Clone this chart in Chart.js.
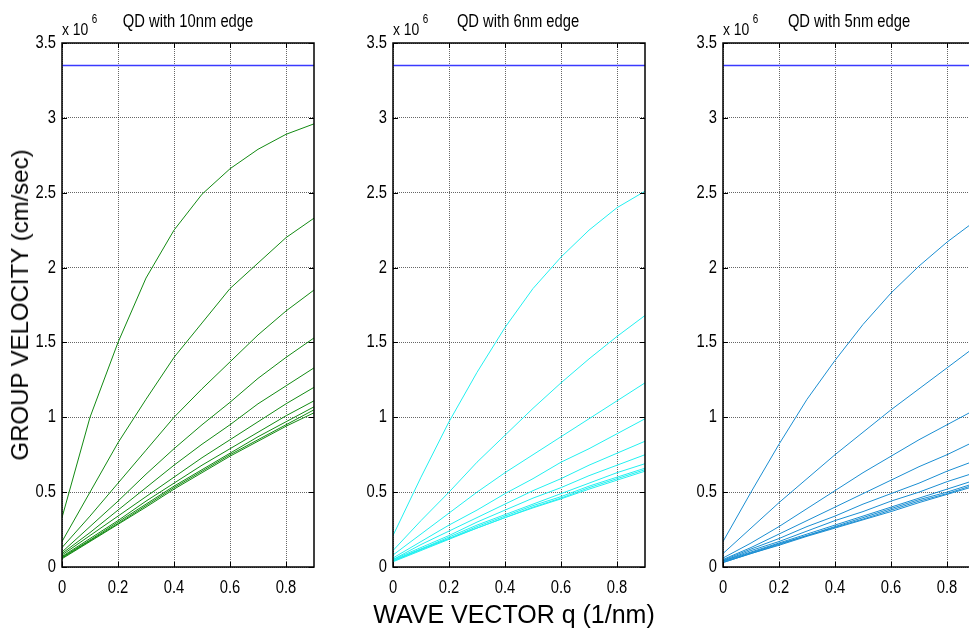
<!DOCTYPE html>
<html>
<head>
<meta charset="utf-8">
<script src="https://cdn.jsdelivr.net/npm/chart.js@4.4.1/dist/chart.umd.min.js"></script>
<style>
  html, body { margin: 0; padding: 0; background: #fff; overflow: hidden; width: 969px; height: 636px; position: relative; }
  .panel { position: absolute; top: 0; width: 330px; height: 636px; }
  .lbl { position: absolute; white-space: nowrap; color: #000; font-family: "Liberation Sans", Arial, sans-serif; line-height: 1; }
  .ttl { font-size: 18px; transform: translateX(-50%) scaleX(0.82); top: 12px; }
  .exp { font-size: 17px; top: 18px; transform-origin: 0 0; transform: scaleX(0.82); }
  .exp sup { font-size: 12px; position: relative; top: -5px; margin-left: 4px; }
  #ylab { font-size: 24px; left: 20px; top: 305px; transform: translate(-50%, -50%) rotate(-90deg); }
  #xlab { font-size: 25px; left: 514px; top: 602px; transform: translateX(-50%); }
</style>
</head>
<body>
<div class="panel" style="left:0px"><canvas id="c0" width="330" height="636"></canvas></div>
<div class="panel" style="left:331px"><canvas id="c1" width="330" height="636"></canvas></div>
<div class="panel" style="left:661px"><canvas id="c2" width="330" height="636"></canvas></div>

<div class="lbl ttl" style="left:188px">QD with 10nm edge</div>
<div class="lbl ttl" style="left:518px">QD with 6nm edge</div>
<div class="lbl ttl" style="left:849px">QD with 5nm edge</div>
<div class="lbl exp" style="left:62px">x 10<sup>6</sup></div>
<div class="lbl exp" style="left:393px">x 10<sup>6</sup></div>
<div class="lbl exp" style="left:723px">x 10<sup>6</sup></div>
<div class="lbl" id="ylab">GROUP VELOCITY (cm/sec)</div>
<div class="lbl" id="xlab">WAVE VECTOR q (1/nm)</div>

<script>
// group velocity vs wave vector, three quantum-dot sizes (values in 10^6 cm/sec)

const qValues = [0, 0.1, 0.2, 0.3, 0.4, 0.5, 0.6, 0.7, 0.8, 0.9];
const xTicks = [0, 0.2, 0.4, 0.6, 0.8];
const yTicks = [0, 0.5, 1, 1.5, 2, 2.5, 3, 3.5];
const bulkVelocity = 3.35;

const vg10nm = [
  [0.33, 1.00, 1.50, 1.93, 2.25, 2.49, 2.66, 2.79, 2.89, 2.96],
  [0.17, 0.50, 0.83, 1.12, 1.40, 1.63, 1.86, 2.03, 2.20, 2.33],
  [0.13, 0.34, 0.56, 0.78, 1.00, 1.19, 1.37, 1.55, 1.71, 1.85],
  [0.10, 0.27, 0.44, 0.62, 0.79, 0.95, 1.10, 1.26, 1.40, 1.53],
  [0.09, 0.23, 0.38, 0.53, 0.68, 0.82, 0.95, 1.09, 1.21, 1.33],
  [0.08, 0.21, 0.34, 0.47, 0.60, 0.73, 0.85, 0.97, 1.09, 1.20],
  [0.07, 0.19, 0.31, 0.44, 0.56, 0.68, 0.79, 0.90, 1.01, 1.11],
  [0.065, 0.18, 0.30, 0.42, 0.54, 0.65, 0.76, 0.87, 0.97, 1.07],
  [0.06, 0.175, 0.29, 0.41, 0.53, 0.64, 0.75, 0.85, 0.95, 1.05],
  [0.055, 0.17, 0.285, 0.40, 0.52, 0.63, 0.74, 0.84, 0.94, 1.03],
];

const vg6nm = [
  [0.21, 0.60, 0.97, 1.30, 1.60, 1.86, 2.07, 2.25, 2.40, 2.51],
  [0.11, 0.31, 0.50, 0.70, 0.88, 1.06, 1.23, 1.39, 1.54, 1.68],
  [0.08, 0.22, 0.36, 0.50, 0.63, 0.75, 0.87, 0.99, 1.11, 1.23],
  [0.06, 0.17, 0.28, 0.38, 0.49, 0.59, 0.70, 0.79, 0.89, 0.99],
  [0.05, 0.15, 0.24, 0.33, 0.42, 0.51, 0.59, 0.68, 0.76, 0.84],
  [0.05, 0.13, 0.21, 0.30, 0.38, 0.46, 0.53, 0.61, 0.68, 0.75],
  [0.045, 0.12, 0.20, 0.28, 0.35, 0.42, 0.49, 0.56, 0.63, 0.69],
  [0.04, 0.12, 0.19, 0.27, 0.34, 0.41, 0.47, 0.54, 0.60, 0.66],
  [0.04, 0.115, 0.19, 0.26, 0.33, 0.40, 0.46, 0.53, 0.59, 0.65],
  [0.035, 0.11, 0.185, 0.26, 0.33, 0.395, 0.455, 0.52, 0.58, 0.64],
];

const vg5nm = [
  [0.17, 0.50, 0.82, 1.12, 1.38, 1.62, 1.83, 2.01, 2.17, 2.31],
  [0.09, 0.26, 0.43, 0.59, 0.75, 0.90, 1.05, 1.19, 1.33, 1.47],
  [0.06, 0.16, 0.27, 0.39, 0.51, 0.63, 0.74, 0.85, 0.95, 1.05],
  [0.05, 0.13, 0.22, 0.31, 0.40, 0.49, 0.58, 0.67, 0.75, 0.84],
  [0.045, 0.12, 0.19, 0.27, 0.34, 0.42, 0.49, 0.56, 0.64, 0.71],
  [0.04, 0.11, 0.17, 0.24, 0.31, 0.37, 0.44, 0.50, 0.57, 0.63],
  [0.04, 0.10, 0.16, 0.22, 0.28, 0.34, 0.40, 0.46, 0.52, 0.58],
  [0.035, 0.095, 0.155, 0.21, 0.27, 0.33, 0.39, 0.45, 0.50, 0.56],
  [0.03, 0.09, 0.15, 0.21, 0.265, 0.32, 0.38, 0.44, 0.49, 0.55],
  [0.03, 0.09, 0.145, 0.205, 0.26, 0.315, 0.37, 0.43, 0.485, 0.54],
];

const PANELS = [
  { id: "c0", curves: vg10nm, color: "#128a12" },
  { id: "c1", curves: vg6nm,  color: "#22f0f0" },
  { id: "c2", curves: vg5nm,  color: "#1a8ed2" },
];

const NARROW = 0.82;  // squeeze factor, no condensed face is installed

// MATLAB-style box, inward tick marks on all four sides, narrow tick labels
const frameTicks = {
  id: "frameTicks",
  afterDatasetsDraw(chart) {
    const { ctx, chartArea: a, scales: { x, y } } = chart;
    ctx.save();
    ctx.strokeStyle = "#000";
    ctx.lineWidth = 1.5;
    ctx.strokeRect(a.left, a.top, a.right - a.left, a.bottom - a.top);
    ctx.lineWidth = 1;
    ctx.beginPath();
    x.ticks.forEach(t => {
      const px = Math.round(x.getPixelForValue(t.value)) + 0.5;
      ctx.moveTo(px, a.bottom); ctx.lineTo(px, a.bottom - 5);
      ctx.moveTo(px, a.top);    ctx.lineTo(px, a.top + 5);
    });
    y.ticks.forEach(t => {
      const py = Math.round(y.getPixelForValue(t.value)) + 0.5;
      ctx.moveTo(a.left, py);  ctx.lineTo(a.left + 5, py);
      ctx.moveTo(a.right, py); ctx.lineTo(a.right - 5, py);
    });
    ctx.stroke();

    ctx.fillStyle = "#000";
    ctx.font = '18px "Liberation Sans", Arial, sans-serif';
    ctx.textAlign = "center";
    ctx.textBaseline = "top";
    x.ticks.forEach(t => {
      const px = x.getPixelForValue(t.value);
      ctx.save();
      ctx.translate(px, a.bottom + 12);
      ctx.scale(NARROW, 1);
      ctx.fillText(String(t.value), 0, 0);
      ctx.restore();
    });
    ctx.textAlign = "right";
    ctx.textBaseline = "middle";
    y.ticks.forEach(t => {
      const py = y.getPixelForValue(t.value);
      ctx.save();
      ctx.translate(a.left - 6, py);
      ctx.scale(NARROW, 1);
      ctx.fillText(String(t.value), 0, 0);
      ctx.restore();
    });
    ctx.restore();
  },
};

function buildPanel(p) {
  const datasets = p.curves.map(vals => ({
    data: qValues.map((q, i) => ({ x: q, y: vals[i] })),
    borderColor: p.color,
    borderWidth: 1,
    pointRadius: 0,
    tension: 0,
  }));
  datasets.push({
    data: [{ x: qValues[0], y: bulkVelocity }, { x: qValues[qValues.length - 1], y: bulkVelocity }],
    borderColor: "#3a3aff",
    borderWidth: 1.5,
    pointRadius: 0,
  });

  new Chart(document.getElementById(p.id), {
    type: "line",
    data: { datasets },
    options: {
      responsive: false,
      animation: false,
      layout: { padding: { top: 43, right: 16, left: 0, bottom: 0 } },
      plugins: { legend: { display: false }, tooltip: { enabled: false } },
      scales: {
        x: {
          type: "linear",
          min: 0,
          max: 0.9,
          afterBuildTicks: s => { s.ticks = xTicks.map(v => ({ value: v })); },
          afterFit: s => { s.height = 69; },
          ticks: { display: false },
          grid: { color: "rgba(0,0,0,0.6)", lineWidth: 1, drawTicks: false },
          border: { display: false, dash: [1, 1] },
        },
        y: {
          min: 0,
          max: 3.5,
          afterBuildTicks: s => { s.ticks = yTicks.map(v => ({ value: v })); },
          afterFit: s => { s.width = 62; },
          ticks: { display: false },
          grid: { color: "rgba(0,0,0,0.6)", lineWidth: 1, drawTicks: false },
          border: { display: false, dash: [1, 1] },
        },
      },
    },
    plugins: [frameTicks],
  });
}

PANELS.forEach(buildPanel);
</script>
</body>
</html>
